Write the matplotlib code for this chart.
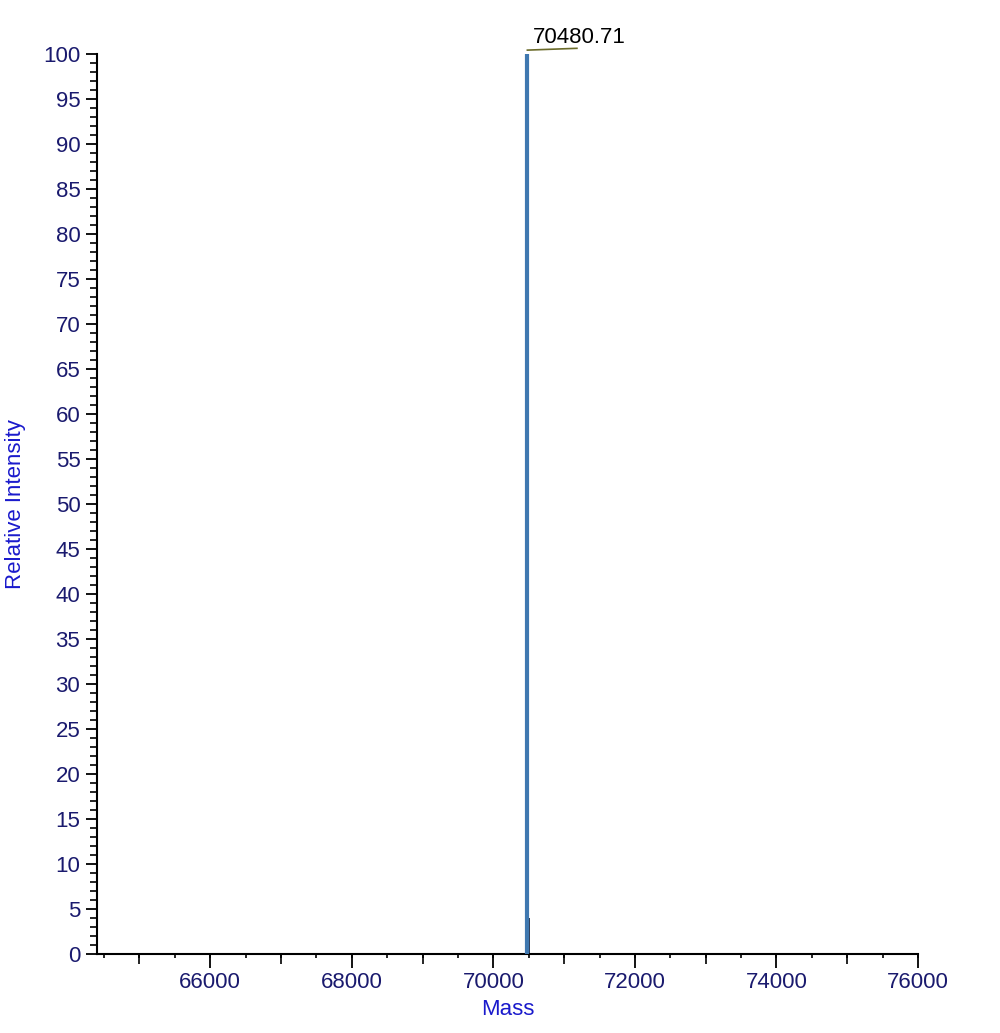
import matplotlib.pyplot as plt
from matplotlib.ticker import MultipleLocator

plt.rcParams['font.family'] = ['Liberation Sans', 'DejaVu Sans']

# peak sticks (mass, relative intensity)
profile_mass = [70455, 70460, 70500]
profile_int = [72, 80, 4]
peak_mass = 70480.71
peak_int = 100

fig = plt.figure(figsize=(10, 10.33), dpi=100)
ax = fig.add_axes([0.097, 0.0765, 0.821, 0.8715])

ax.vlines(profile_mass, 0, profile_int, color='#1c2a44', lw=1.3, zorder=2)
ax.vlines([peak_mass], 0, [peak_int], color='#3f78b0', lw=3, zorder=3)

ax.annotate('70480.71', xy=(peak_mass, 100.6), xytext=(peak_mass + 80, 100.6),
            fontsize=16, color='black', ha='left', va='bottom',
            annotation_clip=False)
ax.plot([peak_mass, peak_mass + 700], [100.4, 100.6], color='#6b6b2a', lw=1.2,
        clip_on=False)

ax.set_xlim(64400, 76000)
ax.set_ylim(0, 100)

for s in ['top', 'right']:
    ax.spines[s].set_visible(False)
for s in ['left', 'bottom']:
    ax.spines[s].set_linewidth(1.5)

ax.yaxis.set_major_locator(MultipleLocator(5))
ax.yaxis.set_minor_locator(MultipleLocator(1))
ax.xaxis.set_major_locator(MultipleLocator(2000))
ax.xaxis.set_minor_locator(MultipleLocator(1000))
ax.tick_params(axis='y', which='major', length=8, width=1.3, labelsize=16,
               labelcolor='#1a1a6e', direction='out', pad=4)
ax.tick_params(axis='y', which='minor', length=5, width=1.2, direction='out')
ax.tick_params(axis='x', which='major', length=10, width=1.3, labelsize=16,
               labelcolor='#1a1a6e', direction='out', pad=3)
ax.tick_params(axis='x', which='minor', length=7, width=1.2, direction='out')

# small 500 ticks on the mass axis
sec = ax.secondary_xaxis('bottom')
sec.spines['bottom'].set_visible(False)
sec.xaxis.set_major_locator(MultipleLocator(500))
sec.tick_params(length=3, width=1.2, labelbottom=False)

ax.set_xlabel('Mass', fontsize=16, color='#1a1acc', labelpad=4)
ax.set_ylabel('Relative Intensity', fontsize=16, color='#1a1acc', labelpad=12)

fig.savefig('out.png', dpi=100)
